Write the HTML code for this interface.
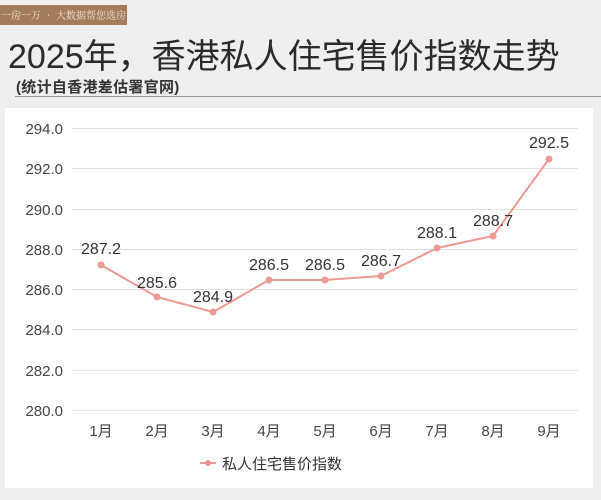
<!DOCTYPE html>
<html><head><meta charset="utf-8"><style>
body{margin:0;width:601px;height:500px;background:#efefef;overflow:hidden;font-family:"Liberation Sans","Noto Sans CJK SC",sans-serif;position:relative}
.badge{position:absolute;left:0;top:5px;width:127px;height:20px;background:#a47c5c;color:#f3e7da;font-size:10px;line-height:20px;text-align:center;white-space:nowrap;font-family:"Noto Serif CJK SC",serif}
.title{position:absolute;left:8px;top:29px;font-size:34px;color:#2a2a2a;white-space:nowrap}
.sub{position:absolute;left:16px;top:76px;font-size:15px;font-weight:bold;color:#333;letter-spacing:0.3px}
.line{position:absolute;left:15px;top:96px;width:586px;height:1px;background:#999}
.panel{position:absolute;left:5px;top:108px;width:588px;height:380px;background:#fff}
</style></head><body>
<div class="badge">一房一万 • 大数据帮您选房</div>
<div class="title">2025年，香港私人住宅售价指数走势</div>
<div class="sub">(统计自香港差估署官网)</div>
<div class="line"></div>
<div class="panel"></div>
<svg width="601" height="500" style="position:absolute;left:0;top:0" font-family="Liberation Sans, Noto Sans CJK SC, sans-serif">
<g stroke="#e2e2e2" stroke-width="1">
<line x1="72" x2="578" y1="128.5" y2="128.5"/><line x1="72" x2="578" y1="168.5" y2="168.5"/><line x1="72" x2="578" y1="209.5" y2="209.5"/><line x1="72" x2="578" y1="249.5" y2="249.5"/><line x1="72" x2="578" y1="289.5" y2="289.5"/><line x1="72" x2="578" y1="329.5" y2="329.5"/><line x1="72" x2="578" y1="370.5" y2="370.5"/><line x1="72" x2="578" y1="410.5" y2="410.5"/>
</g>
<g font-size="15" fill="#444" text-anchor="end">
<text x="63" y="134">294.0</text><text x="63" y="174">292.0</text><text x="63" y="215">290.0</text><text x="63" y="255">288.0</text><text x="63" y="295">286.0</text><text x="63" y="335">284.0</text><text x="63" y="376">282.0</text><text x="63" y="416">280.0</text>
</g>
<g font-size="15" fill="#444" text-anchor="middle">
<text x="101" y="436">1月</text><text x="157" y="436">2月</text><text x="213" y="436">3月</text><text x="269" y="436">4月</text><text x="325" y="436">5月</text><text x="381" y="436">6月</text><text x="437" y="436">7月</text><text x="493" y="436">8月</text><text x="549" y="436">9月</text>
</g>
<polyline fill="none" stroke="#ee9a94" stroke-width="2" points="101,265 157,297 213,312 269,280 325,280 381,276 437,248 493,236 549,159"/>
<g fill="#ee9a94">
<circle cx="101" cy="265" r="3.5"/><circle cx="157" cy="297" r="3.5"/><circle cx="213" cy="312" r="3.5"/><circle cx="269" cy="280" r="3.5"/><circle cx="325" cy="280" r="3.5"/><circle cx="381" cy="276" r="3.5"/><circle cx="437" cy="248" r="3.5"/><circle cx="493" cy="236" r="3.5"/><circle cx="549" cy="159" r="3.5"/>
</g>
<g font-size="16" fill="#333" text-anchor="middle">
<text x="101" y="254">287.2</text><text x="157" y="288">285.6</text><text x="213" y="302">284.9</text><text x="269" y="270">286.5</text><text x="325" y="270">286.5</text><text x="381" y="266">286.7</text><text x="437" y="238">288.1</text><text x="493" y="226">288.7</text><text x="549" y="148">292.5</text>
</g>
<line x1="200" x2="216" y1="463" y2="463" stroke="#ee9a94" stroke-width="2"/><circle cx="208" cy="463" r="3" fill="#ee9a94"/>
<text x="222" y="469" font-size="15" fill="#333">私人住宅售价指数</text>
</svg>
</body></html>
